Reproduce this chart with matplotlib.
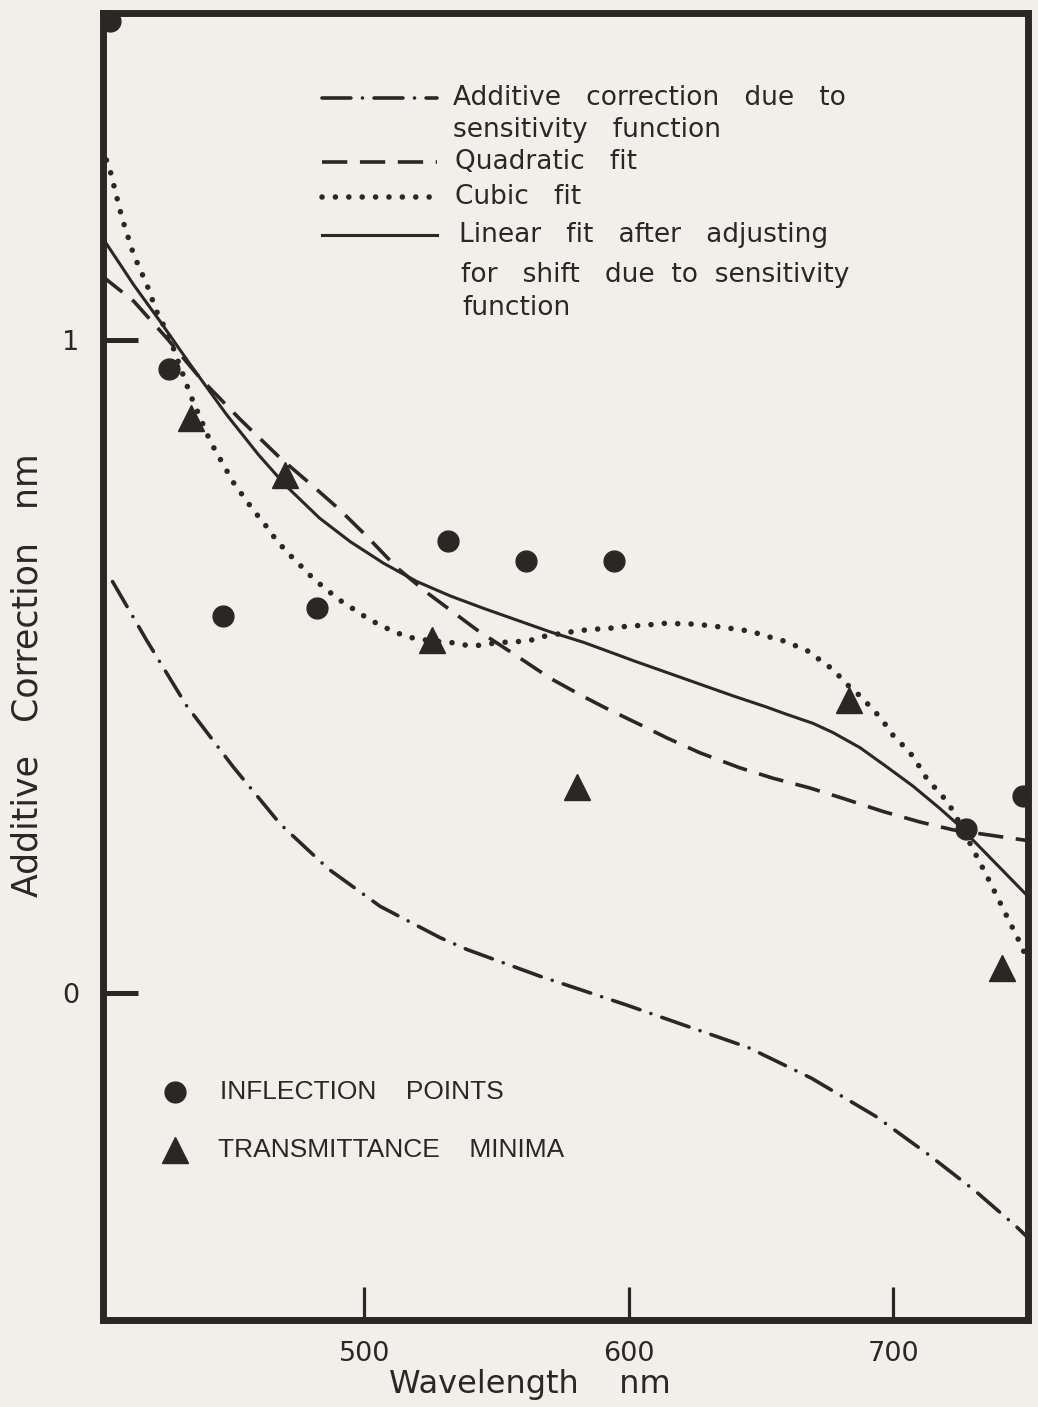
import matplotlib
matplotlib.use("Agg")
import matplotlib.pyplot as plt

# values: wavelength (nm) and additive correction (nm)
inflection_nm = [404, 426, 446.6, 482.3, 531.6, 561.2, 594.4, 727.5, 749]
inflection_corr = [1.487, 0.956, 0.578, 0.590, 0.692, 0.661, 0.661, 0.252, 0.302]

minima_nm = [434.3, 470.1, 525.6, 580.4, 683.4, 741.1]
minima_corr = [0.88, 0.793, 0.540, 0.316, 0.448, 0.039]

# additive correction due to sensitivity function (dash-dot)
sens_nm = [404.8, 417.7, 432.8, 450.5, 468.2, 486.5, 506, 528.7, 538.8, 566.5,
           599.2, 623.2, 645.2, 669.1, 693.3, 713.4, 731.2, 746.3, 752]
sens_corr = [0.63, 0.540, 0.44, 0.346, 0.259, 0.19, 0.133, 0.085, 0.067, 0.026,
             -0.018, -0.052, -0.083, -0.130, -0.188, -0.247, -0.303, -0.356, -0.378]

# quadratic fit (dashed)
quad_nm = [401, 412.8, 425.4, 438, 453.1, 468.2, 480.6, 490.7, 501, 512.4, 523.7,
           542.6, 557.7, 570.3, 582.9, 591, 604.3, 614.3, 626.9, 642, 654.6,
           668.6, 681.2, 696.3, 710.2, 722.7, 752]
quad_corr = [1.097, 1.059, 1.002, 0.941, 0.878, 0.819, 0.776, 0.740, 0.699, 0.651, 0.613,
             0.556, 0.516, 0.482, 0.454, 0.437, 0.411, 0.391, 0.368, 0.345, 0.329,
             0.314, 0.298, 0.278, 0.262, 0.250, 0.233]

# cubic fit (dotted)
cubic_nm = [402.5, 404, 408.4, 412.8, 417.8, 421.5, 426, 434.2, 441.8, 450.6, 457.9,
            462.3, 466.1, 470.5, 475.5, 480.6, 485.6, 491.3, 497, 501.5, 507.1,
            511.5, 516.5, 525.6, 532.5, 537.5, 542.6, 547.6, 552.6, 557.7, 562.8,
            567.8, 576.6, 581.6, 586.7, 591.7, 598, 608.2, 613.5, 623.9, 629.6,
            635.6, 646.1, 652.4, 658, 662.4, 668.1, 672.6, 677.4, 680.8, 684,
            687.8, 695.8, 699.2, 703.3, 707.4, 710.2, 712.8, 716.8, 720.3, 723.1,
            735.5, 748, 752]
cubic_corr = [1.275, 1.257, 1.186, 1.130, 1.084, 1.043, 1.007, 0.916, 0.844, 0.781, 0.740,
              0.718, 0.697, 0.676, 0.656, 0.635, 0.618, 0.600, 0.585, 0.573, 0.561,
              0.553, 0.545, 0.539, 0.537, 0.533, 0.532, 0.535, 0.537, 0.538, 0.540,
              0.546, 0.552, 0.555, 0.557, 0.558, 0.561, 0.564, 0.566, 0.565, 0.563,
              0.560, 0.554, 0.546, 0.540, 0.533, 0.523, 0.509, 0.495, 0.480, 0.467,
              0.454, 0.419, 0.398, 0.381, 0.363, 0.345, 0.328, 0.310, 0.294, 0.276,
              0.179, 0.077, 0.04]

# linear fit after adjusting for shift (solid)
lin_nm = [401, 412.8, 422.8, 434.2, 448, 460, 470.5, 483.1, 494.7, 507.3, 519.9,
          532.5, 545.1, 557.7, 570.3, 582.9, 591, 601.7, 614.3, 626.9, 639.5,
          652.1, 659.6, 669.7, 677.2, 687.4, 697.4, 707.5, 717.6, 724, 752]
lin_corr = [1.156, 1.084, 1.028, 0.962, 0.885, 0.824, 0.776, 0.727, 0.691, 0.658, 0.630,
            0.608, 0.589, 0.571, 0.553, 0.537, 0.525, 0.509, 0.491, 0.473, 0.455,
            0.438, 0.427, 0.413, 0.399, 0.376, 0.347, 0.317, 0.283, 0.260, 0.144]

x_ticks = [500, 600, 700]
y_ticks = [0, 1]
y_ticklabels = ["0", "1"]

# top key: (style, text lines)
legend_keys = ["sens", "quad", "cubic", "lin"]
legend_text = [
    ["Additive   correction   due   to", "sensitivity   function"],
    ["Quadratic   fit"],
    ["Cubic   fit"],
    ["Linear   fit   after   adjusting", "for   shift   due  to  sensitivity", "function"],
]

INK = "#2a2827"
BG = "#f2eee9"
FONT = "DejaVu Sans"
KEYFONT = "Liberation Sans"

fig = plt.figure(figsize=(10.38, 14.07), dpi=100, facecolor=BG)
ax = fig.add_axes([102.5 / 1038, 87 / 1407, 925.5 / 1038, 1307 / 1407])
ax.set_facecolor(BG)

styles = {
    "sens": dict(color=INK, lw=2.6, dashes=(8, 3.2, 0.01, 3.2), dash_capstyle="round"),
    "quad": dict(color=INK, lw=2.6, dashes=(7, 3.5), dash_capstyle="butt"),
    "cubic": dict(color=INK, lw=4.0, dashes=(0.01, 2.4), dash_capstyle="round"),
    "lin": dict(color=INK, lw=2.2, linestyle="-"),
}

ax.plot(sens_nm, sens_corr, **styles["sens"])
ax.plot(quad_nm, quad_corr, **styles["quad"])
ax.plot(cubic_nm, cubic_corr, **styles["cubic"])
ax.plot(lin_nm, lin_corr, **styles["lin"])

ax.plot(inflection_nm, inflection_corr, "o", color=INK, ms=15, ls="none", zorder=2.2)
ax.plot(minima_nm, minima_corr, "^", color=INK, ms=19, ls="none", zorder=2.2)

ax.set_xlim(401, 751)
ax.set_ylim(-0.5, 1.5)

for s in ax.spines.values():
    s.set_linewidth(5.0)
    s.set_color(INK)
    s.set_zorder(3)

ax.set_xticks(x_ticks)
ax.set_xticklabels([str(t) for t in x_ticks], family=FONT, fontsize=19.5)
ax.set_yticks(y_ticks)
ax.set_yticklabels(y_ticklabels, family=FONT, fontsize=19.5)
ax.tick_params(axis="x", direction="in", length=24, width=2.3, pad=15, colors=INK)
ax.tick_params(axis="y", direction="in", length=25, width=3.6, pad=17, colors=INK)

fig.text(28 / 1038, 1 - 675 / 1407, "Additive   Correction   nm", rotation=90,
         ha="center", va="center", fontsize=25, family=FONT, color=INK)
fig.text(530 / 1038, 1 - 1385 / 1407, "Wavelength    nm", ha="center", va="center",
         fontsize=23, family=FONT, color=INK)


# key positions, given in picture pixels and turned into axes fraction
def fx(px):
    return (px - 102.5) / 925.5


def fy(py):
    return (1320 - py) / 1307


sample_rows = [98, 162, 197, 235]
text_rows = [[98, 130], [162], [197], [235, 275, 308]]
text_x = [[453, 453], [455], [455], [459, 461, 462]]
for k, sy, rows, xs, lines in zip(legend_keys, sample_rows, text_rows, text_x, legend_text):
    ax.plot([fx(322), fx(437)], [fy(sy), fy(sy)], transform=ax.transAxes,
            clip_on=False, **styles[k])
    for ry, tx, line in zip(rows, xs, lines):
        ax.text(fx(tx), fy(ry), line, transform=ax.transAxes, ha="left",
                va="center", fontsize=19, family=FONT, color=INK)

# bottom marker key
ax.plot([fx(175)], [fy(1092)], "o", color=INK, ms=15, transform=ax.transAxes)
ax.plot([fx(175)], [fy(1150)], "^", color=INK, ms=19, transform=ax.transAxes)
ax.text(fx(220), fy(1092), "INFLECTION    POINTS", transform=ax.transAxes,
        ha="left", va="center", fontsize=19, family=KEYFONT, color=INK)
ax.text(fx(218), fy(1150), "TRANSMITTANCE    MINIMA", transform=ax.transAxes,
        ha="left", va="center", fontsize=19, family=KEYFONT, color=INK)

fig.savefig("out.png", dpi=100, facecolor=BG)
